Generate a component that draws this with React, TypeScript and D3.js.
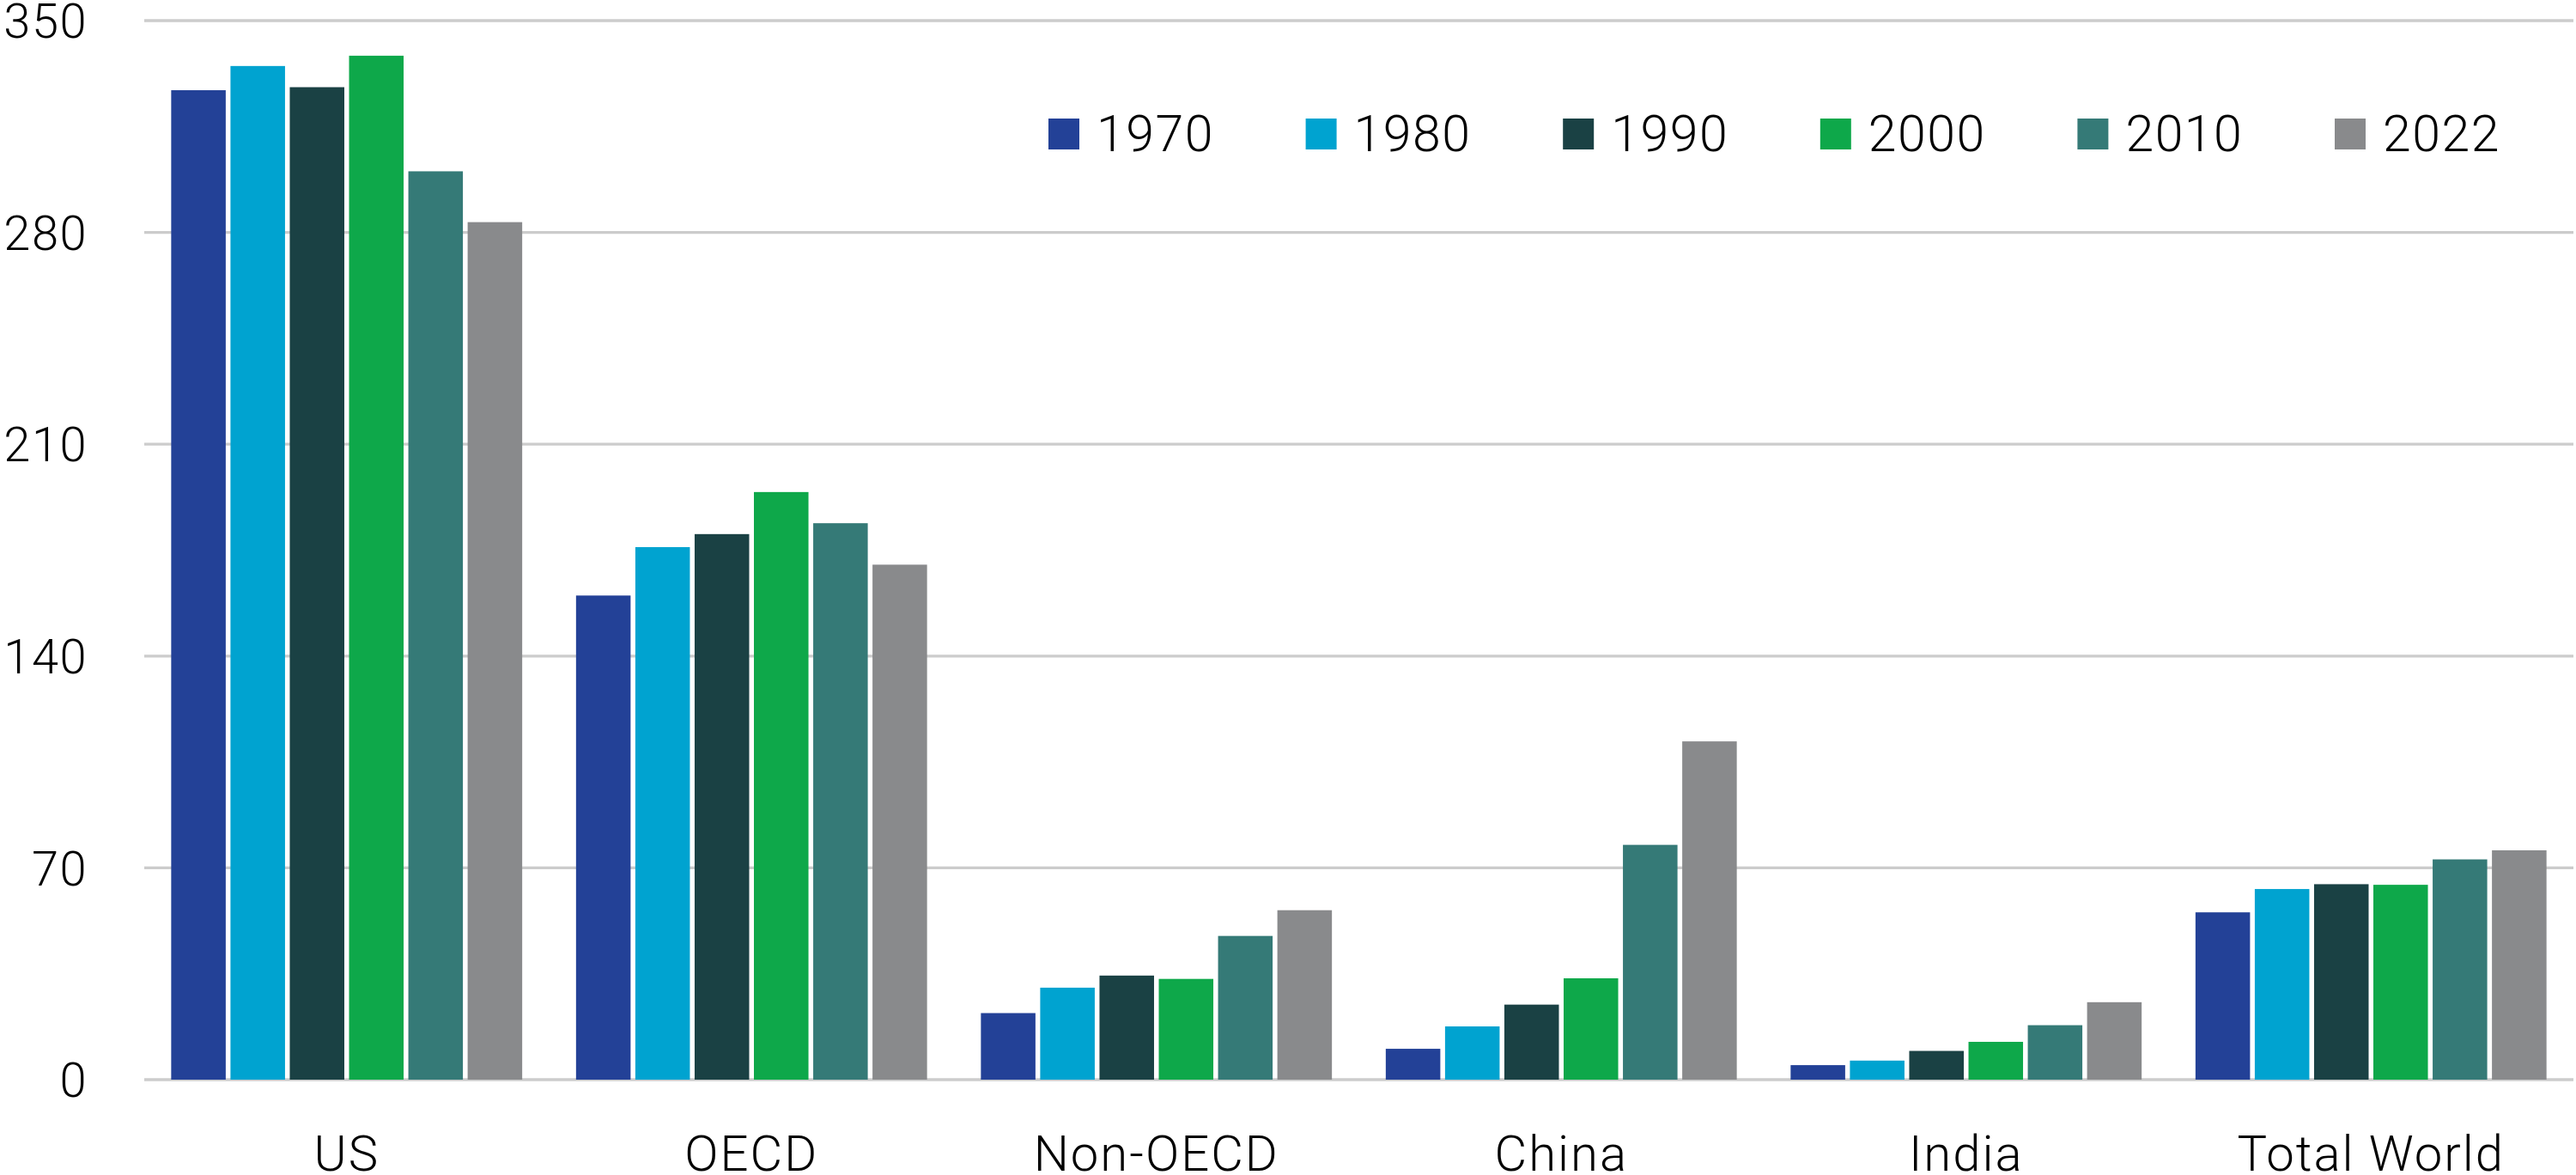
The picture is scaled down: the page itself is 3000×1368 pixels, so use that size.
import React from "react";
import * as d3 from "d3";

const regions: string[] = ["US", "OECD", "Non-OECD", "China", "India", "Total World"];
const years: string[] = ["1970", "1980", "1990", "2000", "2010", "2022"];

// one array per year, same order as regions
const v1970: number[] = [327, 160, 22, 10.2, 4.8, 55.3];
const v1980: number[] = [335, 176, 30.4, 17.6, 6.3, 63];
const v1990: number[] = [328, 180.3, 34.4, 24.8, 9.5, 64.6];
const v2000: number[] = [338.4, 194.2, 33.3, 33.5, 12.5, 64.4];
const v2010: number[] = [300.2, 183.9, 47.5, 77.6, 18, 72.8];
const v2022: number[] = [283.4, 170.2, 56, 111.8, 25.6, 75.8];

const series: number[][] = [v1970, v1980, v1990, v2000, v2010, v2022];
const yTicks: number[] = [0, 70, 140, 210, 280, 350];
const colors: string[] = ["#234197", "#00a3d0", "#1a4144", "#0ea84a", "#357a77", "#898a8c"];

const W = 3000;
const H = 1368;
const margin = { top: 24, right: 3, bottom: 111, left: 168 };
const FONT = "Roboto, 'Liberation Sans', sans-serif";

export default function App() {
    const x0 = d3.scaleBand<string>()
        .domain(regions)
        .range([margin.left, W - margin.right])
        .paddingInner(0.133)
        .paddingOuter(0.0665);
    const x1 = d3.scaleBand<string>()
        .domain(years)
        .range([0, x0.bandwidth()])
        .paddingInner(0.08);
    const y = d3.scaleLinear()
        .domain([0, 350])
        .range([H - margin.bottom, margin.top]);

    return <svg width={W} height={H} style={{ position: "absolute", left: 0, top: 0, background: "#fff" }}>
        {/* gridlines */}
        {yTicks.map(t =>
            <line key={t} x1={margin.left} x2={W - margin.right} y1={y(t)} y2={y(t)}
                stroke="#cccccc" strokeWidth={3.3} />
        )}
        {/* y labels */}
        {yTicks.map(t =>
            <text key={"l" + t} x={102} y={y(t)} dy="0.36em" textAnchor="end"
                fontFamily={FONT} fontWeight={300} fontSize={56} letterSpacing={1.5} fill="#000">{t}</text>
        )}
        {/* bars */}
        {regions.map((r, ri) =>
            <g key={r} transform={`translate(${x0(r)},0)`}>
                {years.map((yr, si) =>
                    <rect key={yr} x={x1(yr)} width={x1.bandwidth()}
                        y={y(series[si][ri])} height={y(0) - y(series[si][ri])} fill={colors[si]} />
                )}
            </g>
        )}
        {/* x labels */}
        {regions.map(r =>
            <text key={"x" + r} x={x0(r)! + x0.bandwidth() / 2} y={1363} textAnchor="middle"
                fontFamily={FONT} fontWeight={300} fontSize={58} letterSpacing={2} fill="#000">{r}</text>
        )}
        {/* legend */}
        {years.map((yr, i) =>
            <g key={"lg" + yr} transform={`translate(${1221 + i * 299.6},0)`}>
                <rect x={0} y={138} width={36} height={36} fill={colors[i]} />
                <text x={56} y={176} fontFamily={FONT} fontWeight={300} fontSize={59} letterSpacing={1.5} fill="#000">{yr}</text>
            </g>
        )}
    </svg>
}
